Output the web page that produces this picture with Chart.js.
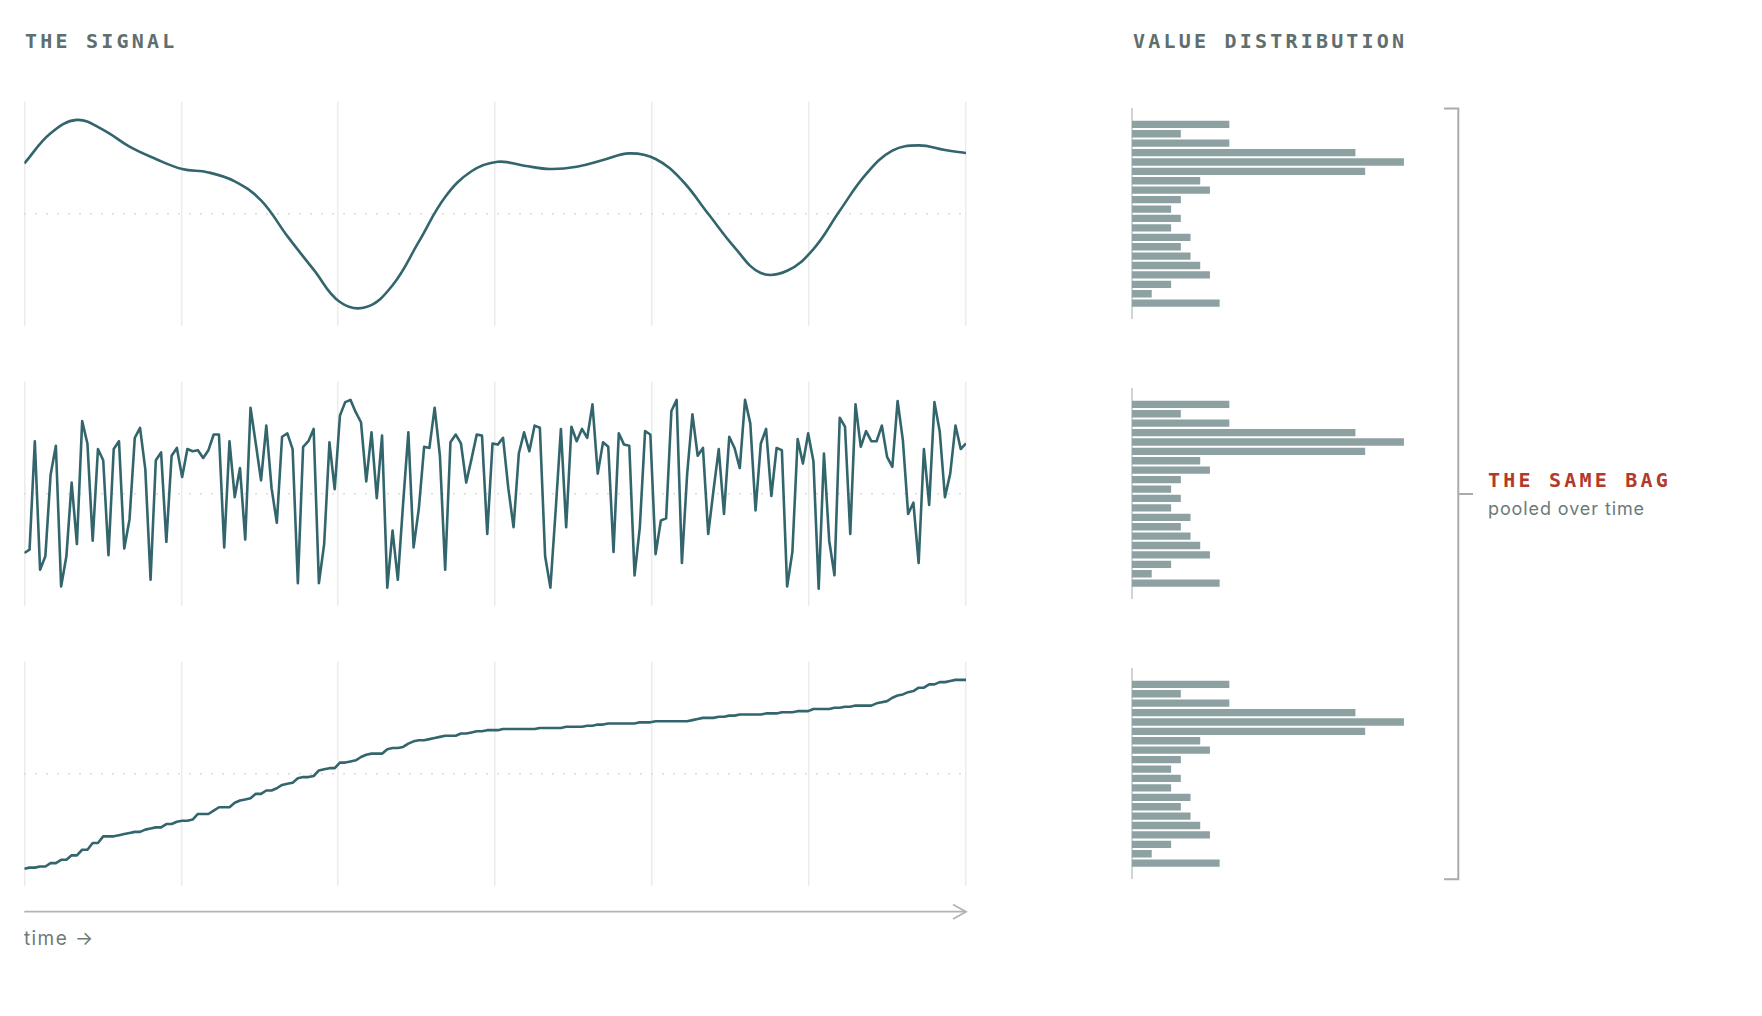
<!DOCTYPE html>
<html>
<head>
<meta charset="utf-8">
<script src="https://cdn.jsdelivr.net/npm/chart.js@4.4.1/dist/chart.umd.min.js"></script>
<style>
  html, body { margin: 0; padding: 0; background: #fff; }
  #page { position: relative; width: 1762px; height: 1016px; overflow: hidden; background: #fff; }
  #page canvas { position: absolute; }
  .label { position: absolute; white-space: nowrap; line-height: 1; }
  .mono { font-family: 'DejaVu Sans Mono', monospace; font-weight: bold; font-size: 20px; letter-spacing: 3.2px; color: #5f6e6e; }
  .red { color: #b23a2c; }
  .note { font-family: Inter, 'Noto Sans', sans-serif; font-size: 18px; letter-spacing: 0.9px; color: #6d7a7a; }
  svg { position: absolute; left: 0; top: 0; pointer-events: none; }
</style>
</head>
<body>
<div id="page">
  <div class="label mono" style="left:25px; top:30.5px;">THE SIGNAL</div>
  <div class="label mono" style="left:1133px; top:30.5px;">VALUE DISTRIBUTION</div>
  <div class="label mono red" style="left:1488px; top:469.5px;">THE SAME BAG</div>
  <div class="label note" style="left:1488px; top:499.5px;">pooled over time</div>
  <div class="label note" style="left:24px; top:929px; font-size:19px; letter-spacing:1.4px;">time →</div>

  <svg width="1762" height="1016">
    <g fill="none" stroke="#b3b3b3" stroke-width="1.8">
      <path d="M24.3 911.7 H966" />
      <path d="M953 904.5 L966 911.7 L953 919" />
    </g>
    <g fill="none" stroke="#ababab" stroke-width="2">
      <path d="M1444 108.5 H1458.3 V879.3 H1444" />
      <path d="M1458.3 494 H1473" />
    </g>
  </svg>
</div>

<script>
'use strict';
// smooth signal, read every 5 steps along time (index 0..179)
const signalIdx = [0, 5, 10, 15, 20, 25, 30, 35, 40, 45, 50, 55, 60, 65, 70, 75, 80, 85, 90,
    95, 100, 105, 110, 115, 120, 125, 130, 135, 140, 145, 150, 155, 160, 165, 170, 175, 179];
const signalVals = [0.45, 0.72, 0.84, 0.75, 0.60, 0.49, 0.40, 0.37, 0.29, 0.12, -0.20, -0.50, -0.79, -0.835, -0.64, -0.25, 0.15, 0.38, 0.465,
    0.43, 0.40, 0.42, 0.48, 0.54, 0.49, 0.30, 0.0, -0.30, -0.53, -0.51, -0.316, 0.027, 0.355, 0.564, 0.612, 0.57, 0.543];

// the same values shuffled in time
const shuffledVals = [
    -0.53, -0.50, 0.47, -0.68, -0.56, 0.17, 0.43, -0.83, -0.56, 0.10,
    -0.45, 0.65, 0.45, -0.42, 0.40, 0.30, -0.55, 0.40, 0.47, -0.49,
    -0.23, 0.50, 0.59, 0.22, -0.77, 0.30, 0.37, -0.43, 0.34, 0.41,
    0.15, 0.40, 0.38, 0.39, 0.32, 0.39, 0.53, 0.53, -0.48, 0.47,
    -0.03, 0.23, -0.41, 0.77, 0.45, 0.12, 0.61, 0.05, -0.26, 0.51,
    0.54, 0.40, -0.80, 0.42, 0.47, 0.58, -0.80, -0.45, 0.46, 0.04,
    0.70, 0.82, 0.84, 0.73, 0.64, 0.11, 0.55, -0.04, 0.52, -0.84,
    -0.33, -0.77, -0.09, 0.55, -0.48, -0.13, 0.42, 0.41, 0.77, 0.34,
    -0.68, 0.46, 0.53, 0.45, 0.10, 0.31, 0.53, 0.52, -0.36, 0.45,
    0.44, 0.50, 0.05, -0.30, 0.36, 0.55, 0.38, 0.61, 0.59, -0.56,
    -0.84, -0.15, 0.58, -0.30, 0.60, 0.47, 0.58, 0.50, 0.80, 0.18,
    0.46, 0.42, -0.52, 0.54, 0.44, 0.43, -0.73, -0.30, 0.56, 0.53,
    -0.54, -0.24, -0.22, 0.74, 0.84, -0.62, 0.18, 0.71, 0.34, 0.41,
    -0.36, 0.03, 0.40, -0.18, 0.51, 0.41, 0.23, 0.84, 0.63, -0.15,
    0.45, 0.58, -0.02, 0.41, 0.39, -0.83, -0.52, 0.49, 0.27, 0.54,
    0.29, -0.85, 0.36, -0.42, -0.73, 0.68, 0.60, -0.36, 0.80, 0.42,
    0.56, 0.47, 0.47, 0.61, 0.33, 0.24, 0.83, 0.48, -0.18, -0.08,
    -0.62, 0.40, -0.10, 0.82, 0.56, -0.03, 0.18, 0.61, 0.40, 0.45];

// histogram: bin centres (top = highest) and counts
const binCenters = [0.800, 0.716, 0.632, 0.547, 0.463, 0.379, 0.295, 0.211, 0.126, 0.042,
    -0.042, -0.126, -0.211, -0.295, -0.379, -0.463, -0.547, -0.632, -0.716, -0.800];
const binCounts = [10, 5, 10, 23, 28, 24, 7, 8, 5, 4, 5, 4, 6, 5, 6, 7, 8, 4, 2, 9];

// the same bag, sorted
const sortedVals = shuffledVals.slice().sort((a, b) => a - b);

const lineColor = '#33656d';
const barColor = '#8da1a2';
const panelTops = [90, 370, 650];
const lastIndex = 179;

const page = document.getElementById('page');

function addCanvas(left, top, w, h) {
    const c = document.createElement('canvas');
    c.width = w;
    c.height = h;
    c.style.left = left + 'px';
    c.style.top = top + 'px';
    page.insertBefore(c, page.querySelector('svg'));
    return c;
}

function drawLinePanel(top, points, smooth) {
    const canvas = addCanvas(0, top, 990, 250);
    new Chart(canvas.getContext('2d'), {
        type: 'line',
        data: {
            datasets: [{
                data: points,
                borderColor: lineColor,
                borderWidth: 2.6,
                borderJoinStyle: 'round',
                pointRadius: 0,
                fill: false,
                tension: smooth ? 0.4 : 0,
            }],
        },
        options: {
            responsive: false,
            animation: false,
            devicePixelRatio: 1,
            layout: { padding: { left: 24.3, right: 24, top: 12, bottom: 14.5 } },
            plugins: { legend: { display: false }, tooltip: { enabled: false } },
            scales: {
                x: {
                    type: 'linear',
                    min: 0,
                    max: lastIndex,
                    grid: { color: '#ececec', lineWidth: 1.5, drawTicks: false },
                    border: { display: false },
                    ticks: { display: false },
                    afterBuildTicks: (scale) => {
                        scale.ticks = [0, 1, 2, 3, 4, 5, 6].map(k => ({ value: k * lastIndex / 6 }));
                    },
                    afterFit: (scale) => { scale.height = 0; },
                },
                y: {
                    type: 'linear',
                    min: -1,
                    max: 1,
                    grid: { color: '#dcdcdc', lineWidth: 1.5, drawTicks: false },
                    border: { display: false, dash: [2, 9] },
                    ticks: { display: false },
                    afterBuildTicks: (scale) => { scale.ticks = [{ value: 0 }]; },
                    afterFit: (scale) => { scale.width = 0; },
                },
            },
        },
    });
}

function drawHistPanel(top) {
    const canvas = addCanvas(1122, top, 310, 250);
    new Chart(canvas.getContext('2d'), {
        type: 'bar',
        data: {
            datasets: [{
                data: binCounts.map((c, k) => ({ x: c, y: binCenters[k] })),
                backgroundColor: barColor,
                borderWidth: 0,
                barThickness: 6.7,
            }],
        },
        options: {
            indexAxis: 'y',
            responsive: false,
            animation: false,
            devicePixelRatio: 1,
            layout: { padding: { left: 10, right: 9, top: 18.75, bottom: 21.25 } },
            plugins: { legend: { display: false }, tooltip: { enabled: false } },
            scales: {
                x: {
                    type: 'linear',
                    min: 0,
                    max: 30,
                    grid: { display: false },
                    border: { display: false },
                    ticks: { display: false },
                    afterFit: (scale) => { scale.height = 0; },
                },
                y: {
                    type: 'linear',
                    min: -0.94,
                    max: 0.94,
                    offset: false,
                    grid: { display: false, drawTicks: false, offset: false },
                    border: { display: true, color: '#d3d3d3', width: 2 },
                    ticks: { display: false },
                    afterFit: (scale) => { scale.width = 0; },
                },
            },
        },
    });
}

drawLinePanel(panelTops[0], signalIdx.map((x, k) => ({ x: x, y: signalVals[k] })), true);
drawLinePanel(panelTops[1], shuffledVals.map((v, i) => ({ x: i, y: v })), false);
drawLinePanel(panelTops[2], sortedVals.map((v, i) => ({ x: i, y: v })), false);

panelTops.forEach(t => drawHistPanel(t));
</script>
</body>
</html>
